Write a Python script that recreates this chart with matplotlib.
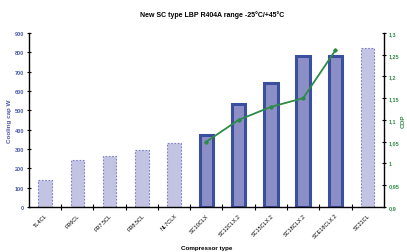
import matplotlib
matplotlib.use("Agg")
import matplotlib.pyplot as plt
import numpy as np

categories = ["TL4CL", "FR6CL", "FR7.5CL", "FR8.5CL", "NL7CLX", "SC10CLX",
              "SC12CLX.2", "SC15CLX.2", "SC18CLX.2", "SCE18CLX.2", "SC21CL"]
cooling_cap = [140, 245, 265, 295, 330, 370, 530, 640, 780, 780, 820]
is_new = [False, False, False, False, False, True, True, True, True, True, False]
cop_cats = ["SC10CLX", "SC12CLX.2", "SC15CLX.2", "SC18CLX.2", "SCE18CLX.2"]
cop_vals = [1.05, 1.10, 1.13, 1.15, 1.26]

plt.rcParams['font.family'] = ['Liberation Sans', 'DejaVu Sans']

fig = plt.figure(figsize=(4.07, 2.53), dpi=100)
ax = fig.add_axes([0.071, 0.178, 0.872, 0.688])
x = np.arange(len(categories))

blue_txt = "#4a5aa8"
green = "#2e8b47"
for xi, v, new in zip(x, cooling_cap, is_new):
    if new:
        ax.bar(xi, v, width=0.42, color="#8c8fc6", edgecolor="#3a4fa0", linewidth=2.2, zorder=2)
    else:
        ax.bar(xi, v, width=0.42, color="#c3c3e3", edgecolor="#7b7fc8", linewidth=0.8,
               linestyle=(0, (1.5, 1.5)), zorder=2)

ax.set_xlim(-0.5, len(categories) - 0.5)
ax.set_ylim(0, 900)
ax.set_yticks(range(0, 901, 100))
ax.tick_params(axis='y', labelsize=4, colors='black', labelcolor=blue_txt, length=3, width=0.8,
               direction='inout', pad=2)
for lbl in ax.get_yticklabels():
    lbl.set_fontweight('bold')
ax.set_xticks(x)
ax.set_xticklabels(categories, rotation=45, ha='right', rotation_mode='anchor', fontsize=4)
ax.tick_params(axis='x', length=0, pad=4)
ax.set_xticks(np.arange(0.5, len(categories) - 0.5, 1), minor=True)
ax.tick_params(axis='x', which='minor', length=4, width=0.8, direction='inout')
ax.spines['top'].set_visible(False)
ax.spines['right'].set_visible(False)
ax.spines['left'].set_linewidth(1.0)
ax.spines['bottom'].set_linewidth(1.0)
ax.set_ylabel("Cooling cap W", fontsize=4.5, color=blue_txt, fontweight='bold', labelpad=2)
ax.set_xlabel("Compressor type", fontsize=4.5, fontweight='bold', labelpad=4)

ax2 = ax.twinx()
cx = [categories.index(c) for c in cop_cats]
ax2.plot(cx, cop_vals, color=green, linewidth=1.3, marker='D', markersize=1.8, zorder=5)
ax2.set_ylim(0.9, 1.3)
ax2.set_yticks([0.9, 0.95, 1.0, 1.05, 1.1, 1.15, 1.2, 1.25, 1.3])
ax2.set_yticklabels(["0,9", "0,95", "1", "1,05", "1,1", "1,15", "1,2", "1,25", "1,3"])
ax2.tick_params(axis='y', labelsize=4, labelcolor=green, length=3, width=0.8,
                direction='inout', pad=2)
for lbl in ax2.get_yticklabels():
    lbl.set_fontweight('bold')
for s in ['top', 'left', 'bottom']:
    ax2.spines[s].set_visible(False)
ax2.spines['right'].set_linewidth(1.0)
ax2.set_ylabel("COP", fontsize=4.5, color=green, fontweight='bold', labelpad=1)

fig.suptitle("New SC type LBP R404A range -25°C/+45°C", fontsize=5, fontweight='bold', y=0.955, x=0.52)

fig.savefig("out.png", dpi=100)
